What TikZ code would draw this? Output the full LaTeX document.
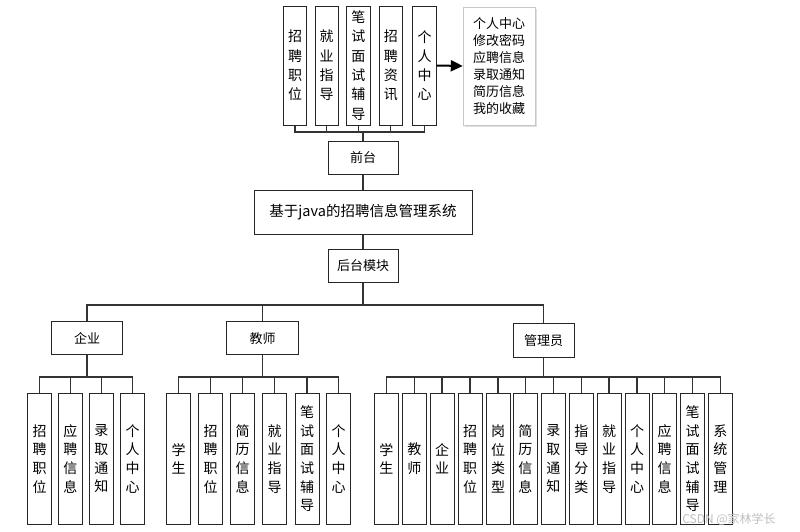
\documentclass[tikz,border=0pt]{standalone}
\usepackage{fontspec}
\setmainfont{Noto Sans CJK SC}
\usetikzlibrary{arrows.meta,shadows}
\begin{document}
\begin{tikzpicture}[x=1pt,y=-1pt,
 box/.style={draw=black!85,line width=1pt,fill=white,inner sep=0pt},
 leaf/.style={box,minimum width=24pt,minimum height=131pt,align=center,font=\fontsize{14}{18.7}\selectfont},
 topbox/.style={box,minimum width=23.4pt,minimum height=119pt,align=center,font=\fontsize{14}{19.3}\selectfont},
 mid/.style={box,minimum width=70pt,minimum height=33pt,font=\fontsize{13}{15}\selectfont},
 conn/.style={draw=black!80,line width=1.2pt}
]
\useasboundingbox (0,0) rectangle (800,531);

% top row
\node[topbox] (t1) at (295,65.5) {招\\聘\\职\\位};
\node[topbox] (t2) at (326.7,65.5) {就\\业\\指\\导};
\node[topbox] (t3) at (358.3,65.5) {笔\\试\\面\\试\\辅\\导};
\node[topbox] (t4) at (390.8,65.5) {招\\聘\\资\\讯};
\node[topbox] (t5) at (424.5,65.5) {个\\人\\中\\心};

\node[draw=black!22,line width=0.8pt,fill=white,drop shadow={opacity=0.25,shadow xshift=1.5pt,shadow yshift=-1.5pt},
      minimum width=72pt,minimum height=118pt,inner sep=0pt,align=center,
      font=\fontsize{13}{17}\selectfont] (info) at (499.2,66) {个人中心\\修改密码\\应聘信息\\录取通知\\简历信息\\我的收藏};
\draw[-{Triangle[length=12pt,width=11pt]},line width=2pt] (t5.east) -- (info.west);

\node[mid] (qiantai) at (363,158) {前台};
\node[box,minimum width=218pt,minimum height=44pt,font=\fontsize{14.5}{16}\selectfont] (main) at (363,212) {基于java的招聘信息管理系统};
\node[mid] (houtai) at (363,266) {后台模块};

\coordinate (b1) at (363,132);
\foreach \n in {t1,t2,t3,t4,t5} \draw[conn] (\n.south) |- (b1);
\draw[conn] (b1) -- (qiantai.north);
\draw[conn] (qiantai) -- (main);
\draw[conn] (main) -- (houtai);

% second level
\node[mid,minimum width=70.6pt,minimum height=33.3pt] (qiye) at (87,338.3) {企业};
\node[mid,minimum width=71.6pt,minimum height=33.3pt] (jiaoshi) at (262.5,338.3) {教师};
\node[mid,minimum width=60.7pt,minimum height=34pt] (guanli) at (543.7,340.3) {管理员};

\coordinate (b2) at (363,305);
\draw[conn] (houtai.south) -- (b2);
\draw[conn] (qiye.north) |- (b2);
\draw[conn] (jiaoshi.north) |- (b2);
\draw[conn] (guanli.north) |- (b2);

% leaves: 企业
\coordinate (b3a) at (87,377);
\draw[conn] (qiye.south) -- (b3a);
\foreach \i/\x/\t in {1/39.5/{招\\聘\\职\\位},2/70.3/{应\\聘\\信\\息},3/101.3/{录\\取\\通\\知},4/132.5/{个\\人\\中\\心}}{
  \node[leaf] (qa\i) at (\x,458.8) {\t};
  \draw[conn] (qa\i.north) |- (b3a);
}

% leaves: 教师
\coordinate (b3b) at (262.5,377);
\draw[conn] (jiaoshi.south) -- (b3b);
\foreach \i/\x/\t in {1/178.7/{学\\生},2/210.7/{招\\聘\\职\\位},3/242.7/{简\\历\\信\\息},4/274.7/{就\\业\\指\\导},5/307/{笔\\试\\面\\试\\辅\\导},6/338.7/{个\\人\\中\\心}}{
  \node[leaf] (jb\i) at (\x,458.8) {\t};
  \draw[conn] (jb\i.north) |- (b3b);
}

% leaves: 管理员
\coordinate (b3c) at (543.7,377);
\draw[conn] (guanli.south) -- (b3c);
\foreach \i/\x/\t in {1/386.3/{学\\生},2/414.3/{教\\师},3/442/{企\\业},4/470/{招\\聘\\职\\位},5/498/{岗\\位\\类\\型},6/525.3/{简\\历\\信\\息},7/553.3/{录\\取\\通\\知},8/581.3/{指\\导\\分\\类},9/609/{就\\业\\指\\导},10/637/{个\\人\\中\\心},11/664.7/{应\\聘\\信\\息},12/692.7/{笔\\试\\面\\试\\辅\\导},13/720.3/{系\\统\\管\\理}}{
  \node[leaf] (gc\i) at (\x,458.8) {\t};
  \draw[conn] (gc\i.north) |- (b3c);
}

\node[text=black!25,font=\fontsize{12}{14}\selectfont,inner sep=0pt] (wm) at (729,519.5) {CSDN @家林学长};
\end{tikzpicture}
\end{document}
